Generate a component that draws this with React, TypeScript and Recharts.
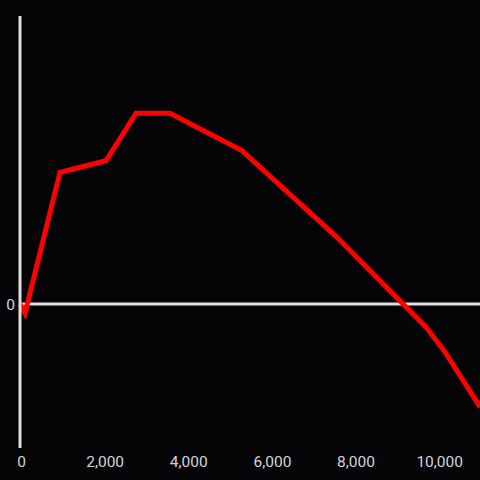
import React from 'react';
import { LineChart, Line, XAxis, YAxis, ReferenceLine } from 'recharts';

const xValues = [0, 120, 956, 2056, 2774, 3587, 5308, 7556, 9708, 10163, 11000];
const yValues = [0, -0.065, 0.915, 0.995, 1.325, 1.325, 1.065, 0.47, -0.16, -0.333, -0.715];
const xTicks = [0, 2000, 4000, 6000, 8000, 10000];
const yTicks = [0];

const data = xValues.map((x, i) => ({ x, y: yValues[i] }));

const axisText = { fill: '#d4d4d4', fontSize: 15.5, fontFamily: 'Roboto, sans-serif' };

export default function App() {
  return (
    <div style={{ position: 'fixed', left: 0, top: 0, width: 480, height: 480, background: '#050407' }}>
      <LineChart width={480} height={480} data={data} margin={{ top: 16, right: 0, bottom: 0, left: 0 }}>
        <XAxis
          dataKey="x"
          type="number"
          domain={[0, 11000]}
          ticks={xTicks}
          tickFormatter={(v: number) => v.toLocaleString('en-US')}
          axisLine={false}
          tickLine={false}
          tick={{ ...axisText, dx: 1.5 }}
          height={32}
          interval={0}
        />
        <YAxis
          type="number"
          domain={[-1, 2]}
          ticks={yTicks}
          width={20}
          tickLine={false}
          tickSize={3}
          axisLine={{ stroke: '#e0e0e0', strokeWidth: 3 }}
          tick={axisText}
        />
        <ReferenceLine y={0} stroke="#e0e0e0" strokeWidth={3} />
        <Line
          dataKey="y"
          type="linear"
          stroke="#ff0000"
          strokeWidth={5}
          dot={false}
          isAnimationActive={false}
        />
      </LineChart>
    </div>
  );
}
